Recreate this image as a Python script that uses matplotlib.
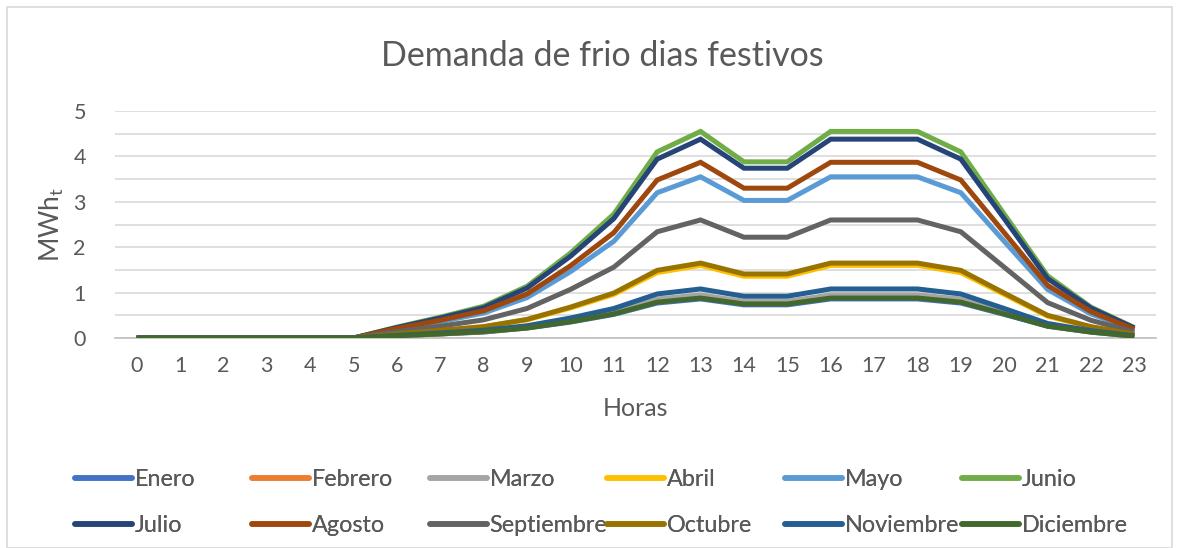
import matplotlib.pyplot as plt
from matplotlib.patches import Rectangle

plt.rcParams['font.family'] = ['Lato', 'DejaVu Sans']

horas = list(range(24))
meses = ['Enero', 'Febrero', 'Marzo', 'Abril', 'Mayo', 'Junio',
         'Julio', 'Agosto', 'Septiembre', 'Octubre', 'Noviembre', 'Diciembre']
colores = ['#4472C4', '#ED7D31', '#A5A5A5', '#FFC000', '#5B9BD5', '#70AD47',
           '#264478', '#9E480E', '#636363', '#997300', '#255E91', '#43682B']

ceros = [0, 0, 0, 0, 0, 0]
enero = ceros + [0.05, 0.09, 0.13, 0.22, 0.35, 0.52, 0.77, 0.86, 0.73, 0.73, 0.86, 0.86, 0.86, 0.77, 0.52, 0.26, 0.13, 0.04]
febrero = ceros + [0.05, 0.09, 0.14, 0.23, 0.38, 0.55, 0.83, 0.92, 0.78, 0.78, 0.92, 0.92, 0.92, 0.83, 0.55, 0.28, 0.14, 0.05]
marzo = ceros + [0.05, 0.10, 0.15, 0.24, 0.39, 0.57, 0.86, 0.95, 0.81, 0.81, 0.95, 0.95, 0.95, 0.86, 0.57, 0.29, 0.14, 0.05]
abril = ceros + [0.08, 0.16, 0.25, 0.40, 0.66, 0.96, 1.44, 1.60, 1.36, 1.36, 1.60, 1.60, 1.60, 1.44, 0.96, 0.48, 0.24, 0.08]
mayo = ceros + [0.19, 0.36, 0.55, 0.89, 1.46, 2.13, 3.20, 3.55, 3.03, 3.03, 3.55, 3.55, 3.55, 3.20, 2.13, 1.07, 0.53, 0.18]
junio = ceros + [0.24, 0.46, 0.70, 1.14, 1.87, 2.73, 4.10, 4.55, 3.88, 3.88, 4.55, 4.55, 4.55, 4.10, 2.73, 1.37, 0.68, 0.23]
julio = ceros + [0.23, 0.44, 0.67, 1.10, 1.80, 2.63, 3.94, 4.38, 3.74, 3.74, 4.38, 4.38, 4.38, 3.94, 2.63, 1.31, 0.66, 0.22]
agosto = ceros + [0.21, 0.39, 0.60, 0.97, 1.59, 2.32, 3.48, 3.87, 3.30, 3.30, 3.87, 3.87, 3.87, 3.48, 2.32, 1.16, 0.58, 0.19]
septiembre = ceros + [0.14, 0.26, 0.40, 0.65, 1.07, 1.56, 2.34, 2.60, 2.22, 2.22, 2.60, 2.60, 2.60, 2.34, 1.56, 0.78, 0.39, 0.13]
octubre = ceros + [0.09, 0.17, 0.25, 0.41, 0.68, 0.99, 1.49, 1.65, 1.41, 1.41, 1.65, 1.65, 1.65, 1.49, 0.99, 0.50, 0.25, 0.08]
noviembre = ceros + [0.06, 0.11, 0.17, 0.27, 0.44, 0.65, 0.97, 1.08, 0.92, 0.92, 1.08, 1.08, 1.08, 0.97, 0.65, 0.32, 0.16, 0.05]
diciembre = ceros + [0.05, 0.09, 0.14, 0.22, 0.36, 0.53, 0.79, 0.88, 0.75, 0.75, 0.88, 0.88, 0.88, 0.79, 0.53, 0.26, 0.13, 0.04]

series = [enero, febrero, marzo, abril, mayo, junio,
          julio, agosto, septiembre, octubre, noviembre, diciembre]

W, H = 1179, 548
fig = plt.figure(figsize=(W / 100, H / 100), dpi=100)
ax = fig.add_axes([115 / W, 1 - 338 / H, (1156 - 115) / W, (338 - 111) / H])

lineas = []
for nombre, datos, color in zip(meses, series, colores):
    ln, = ax.plot(horas, datos, color=color, lw=3.6, solid_joinstyle='miter',
                  solid_capstyle='butt', label=nombre, zorder=3)
    lineas.append(ln)

ax.set_xlim(-0.5, 23.5)
ax.set_ylim(0, 5)
ax.set_xticks(horas)
ax.set_yticks([0, 1, 2, 3, 4, 5])
ax.set_yticks([0.5, 1.5, 2.5, 3.5, 4.5], minor=True)
ax.grid(True, which='both', axis='y', color='#D9D9D9', lw=1.2, zorder=0)
ax.tick_params(which='both', length=0, labelsize=15.5, colors='#595959')
ax.tick_params(axis='x', pad=13)
ax.tick_params(axis='y', pad=21)
for s in ['top', 'right', 'left']:
    ax.spines[s].set_visible(False)
ax.spines['bottom'].set_color('#BFBFBF')
ax.spines['bottom'].set_linewidth(1.2)

ax.set_xlabel('Horas', fontsize=18, color='#595959')
ax.set_ylabel('MWh$_\\mathregular{t}$', fontsize=19, color='#595959')
ax.yaxis.set_label_coords(-0.047, 0.5)
ax.xaxis.set_label_coords(0.5, -0.262)

fig.text(602 / W, 1 - 56 / H, 'Demanda de frio dias festivos', ha='center', va='center',
         fontsize=24.5, color='#595959')

# legend: 6 columns with equal spacing, two rows
x_col = [75, 252, 430, 607, 785, 962]
for c in range(6):
    hs = [lineas[c], lineas[c + 6]]
    leg = fig.legend(hs, [meses[c], meses[c + 6]], loc='upper left',
                     bbox_to_anchor=(x_col[c] / W, 1 - 469 / H),
                     frameon=False, fontsize=16.8, handlelength=2.45,
                     handletextpad=0.1, labelspacing=1.08, borderaxespad=0,
                     borderpad=0, labelcolor='#595959')
    for l in leg.get_lines():
        l.set_linewidth(4)
        l.set_solid_capstyle('round')
    fig.add_artist(leg)

fig.patches.append(Rectangle((7 / W, 0), (1172 - 7) / W, 1 - 7 / H,
                             transform=fig.transFigure, fill=False,
                             edgecolor='#D9D9D9', lw=1.2))

fig.savefig('out.png', dpi=100, facecolor='white')
